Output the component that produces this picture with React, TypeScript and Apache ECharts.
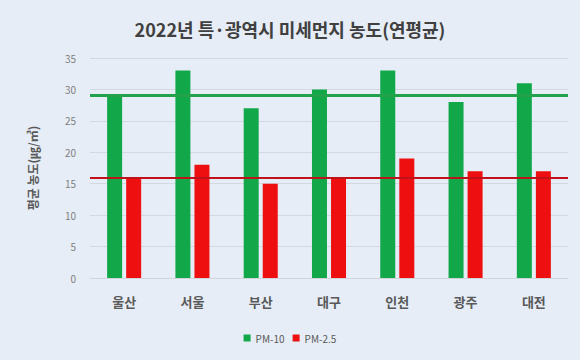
import React, { useEffect, useRef } from "react";
import * as echarts from "echarts";

const categories = ["울산", "서울", "부산", "대구", "인천", "광주", "대전"];
const pm10 = [29, 33, 27, 30, 33, 28, 31];
const pm25 = [16, 18, 15, 16, 19, 17, 17];
const pm10Avg = 29.1;
const pm25Avg = 16;
const titleText = "2022년 특·광역시 미세먼지 농도(연평균)";
const yName = "평균 농도(㎍/㎥)";

export default function App() {
  const ref = useRef<HTMLDivElement>(null);
  useEffect(() => {
    document.body.style.margin = "0";
    const chart = echarts.init(ref.current!, undefined, { renderer: "svg" });
    const font = "'Noto Sans CJK KR', 'Noto Sans', sans-serif";
    chart.setOption({
      animation: false,
      backgroundColor: "#E6EDF6",
      textStyle: { fontFamily: font },
      title: {
        text: titleText,
        left: "center",
        top: 15,
        textStyle: { fontSize: 18, fontWeight: "bold", color: "#404040", fontFamily: font },
      },
      grid: { left: 90, right: 12, top: 58, bottom: 82 },
      legend: {
        bottom: 12,
        left: "center",
        itemWidth: 7,
        itemHeight: 7,
        itemGap: 8,
        icon: "rect",
        textStyle: { fontSize: 10, color: "#595959", fontFamily: font },
        data: ["PM-10", "PM-2.5"],
      },
      xAxis: {
        type: "category",
        data: categories,
        axisTick: { show: false },
        axisLine: { lineStyle: { color: "#D0D5DC" } },
        axisLabel: { fontSize: 13, fontWeight: "bold", color: "#595959", margin: 17 },
      },
      yAxis: {
        type: "value",
        min: 0,
        max: 35,
        interval: 5,
        name: yName,
        nameLocation: "middle",
        nameGap: 52,
        nameTextStyle: { fontSize: 12, fontWeight: "bold", color: "#595959" },
        axisLabel: { fontSize: 10, color: "#7F7F7F", margin: 14 },
        splitLine: { lineStyle: { color: "#D3D9E0" } },
      },
      series: [
        {
          name: "PM-10",
          type: "bar",
          data: pm10,
          barWidth: 15,
          barGap: "27%",
          itemStyle: { color: "#12A84A" },
          markLine: {
            silent: true,
            symbol: "none",
            label: { show: false },
            lineStyle: { color: "#22A24A", width: 3, type: "solid" },
            data: [{ yAxis: pm10Avg }],
          },
        },
        {
          name: "PM-2.5",
          type: "bar",
          data: pm25,
          barWidth: 15,
          itemStyle: { color: "#EE1010" },
          markLine: {
            silent: true,
            symbol: "none",
            label: { show: false },
            lineStyle: { color: "#C0121A", width: 2, type: "solid" },
            data: [{ yAxis: pm25Avg }],
          },
        },
      ],
    });
    return () => chart.dispose();
  }, []);
  return <div ref={ref} style={{ width: 580, height: 360 }} />;
}
